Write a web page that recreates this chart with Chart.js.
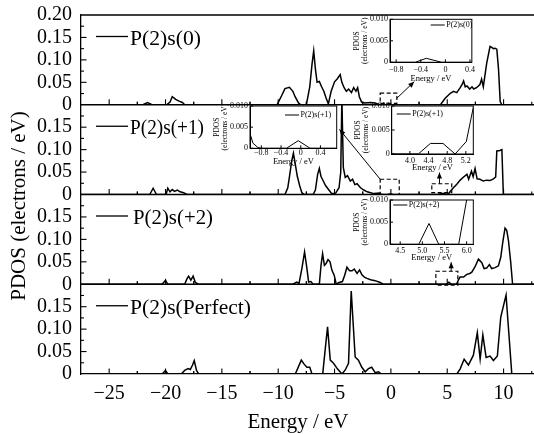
<!DOCTYPE html>
<html><head><meta charset="utf-8">
<script src="https://cdn.jsdelivr.net/npm/chart.js@4/dist/chart.umd.min.js"></script>
<style>
html,body{margin:0;padding:0;background:#fff}
#wrap{position:relative;width:534px;height:434px;overflow:hidden;background:#fff}
canvas{position:absolute}
.t{position:absolute;font-family:'Liberation Serif','Times New Roman',serif;color:#000;white-space:nowrap;text-align:center}
#ytitle{left:-112px;top:194px;width:260px;height:24px;line-height:24px;font-size:21px;transform:rotate(-90deg)}
#xtitle{left:198px;top:409px;width:200px;height:25px;line-height:25px;font-size:21px}
</style></head><body>
<div id="wrap">
<canvas id="main" width="534" height="434" style="left:0;top:0"></canvas>
<div class="t" id="ytitle">PDOS (electrons / eV)</div>
<div class="t" id="xtitle">Energy / eV</div>
</div>
<script>
// ---------- data (Energy in eV, PDOS in electrons/eV) ----------
const seriesLabels = ['P(2)s(0)', 'P(2)s(+1)', 'P(2)s(+2)', 'P(2)s(Perfect)'];

const e0 = [-27.5,-22.0,-21.6,-21.2,-19.9,-19.6,-19.4,-19.1,-18.8,-18.5,-18.3,-10.1,-9.7,-9.4,-9.0,-8.7,-8.5,-8.2,-8.0,-7.5,-7.2,-7.0,-6.85,-6.7,-6.55,-6.35,-6.15,-5.95,-5.75,-5.55,-5.3,-5.0,-4.75,-4.5,-4.35,-4.15,-3.95,-3.75,-3.5,-3.3,-3.1,-2.95,-2.8,-2.6,-2.3,-1.8,-1.4,-1.1,-0.5,-0.3,-0.05,4.4,4.8,5.25,5.55,5.85,6.15,6.3,6.45,6.6,6.75,7.0,7.2,7.35,7.6,7.9,8.05,8.2,8.5,8.8,8.95,9.1,9.25,9.4,9.55,9.7,9.85,12.7];
const v0 = [0,0,0.005,0,0,0.006,0.018,0.012,0.008,0.005,0,0,0.02,0.036,0.039,0.03,0.018,0.004,0,0,0.04,0.09,0.12,0.08,0.05,0.052,0.04,0.03,0.015,0.002,0.03,0.051,0.058,0.067,0.05,0.038,0.03,0.035,0.027,0.038,0.03,0.038,0.018,0.006,0.004,0.005,0.004,0.001,0,0.0009,0,0,0.014,0.025,0.03,0.027,0.038,0.044,0.053,0.04,0.042,0.035,0.04,0.035,0.038,0.045,0.057,0.04,0.092,0.13,0.128,0.125,0.126,0.124,0.08,0.007,0,0];

const e1 = [-27.5,-21.4,-21.1,-20.8,-19.95,-19.8,-19.6,-19.4,-19.2,-18.95,-18.7,-18.4,-18.1,-9.4,-9.15,-9.0,-8.8,-8.65,-8.5,-8.3,-8.1,-7.9,-7.7,-6.9,-6.7,-6.5,-6.35,-6.2,-6.0,-5.8,-5.5,-5.25,-4.9,-4.6,-4.45,-4.35,-4.22,-4.05,-3.85,-3.6,-3.4,-3.2,-3.0,-2.7,-2.4,-2.1,-1.8,-1.5,-1.0,-0.9,-0.8,-0.3,-0.05,0.2,4.2,4.45,4.7,4.97,5.1,5.3,5.55,5.85,6.15,6.45,6.75,6.9,7.15,7.3,7.47,7.65,7.9,8.2,8.5,8.8,9.1,9.3,9.4,9.68,9.85,9.98,12.7];
const v1 = [0,0,0.014,0,0,0.014,0.006,0.011,0.007,0.01,0.006,0.004,0,0,0.015,0.04,0.075,0.092,0.07,0.04,0.02,0.004,0,0,0.01,0.045,0.058,0.04,0.03,0.02,0.01,0.002,0.003,0.015,0.05,0.215,0.06,0.038,0.042,0.03,0.034,0.022,0.024,0.015,0.01,0.006,0.004,0.002,0.0035,0.0012,0.0002,0,0.0018,0,0,0.0022,0.0022,0,0.001,0.008,0.015,0.023,0.032,0.039,0.045,0.034,0.052,0.04,0.058,0.035,0.034,0.03,0.032,0.031,0.035,0.039,0.097,0.098,0.1,0,0];

const e2 = [-27.5,-20.3,-20.0,-19.8,-18.3,-18.1,-17.95,-17.75,-17.55,-17.35,-17.1,-8.7,-8.35,-8.15,-7.9,-7.66,-7.45,-7.3,-7.1,-6.9,-6.35,-6.2,-6.06,-5.9,-5.75,-5.58,-5.4,-5.23,-5.03,-4.85,-4.6,-4.3,-4.1,-3.9,-3.67,-3.45,-3.25,-3.0,-2.78,-2.57,-2.35,-2.13,-1.8,-1.4,-0.95,-0.7,4.92,5.15,5.37,5.82,6.0,6.14,6.45,6.74,7.0,7.18,7.47,7.77,8.07,8.27,8.5,8.74,8.95,9.25,9.54,9.75,9.93,10.13,10.28,10.43,10.63,10.8,12.7];
const v2 = [0,0,0.009,0,0,0.012,0.018,0.009,0.018,0.004,0,0,0.005,0.002,0.035,0.072,0.035,0.005,0.006,0,0,0.042,0.068,0.042,0.046,0.055,0.05,0.031,0.02,0,0.004,0.006,0.02,0.038,0.03,0.03,0.034,0.024,0.032,0.021,0.016,0.013,0.01,0.008,0.004,0,0,0.0047,0,0,0.01,0.016,0.016,0.022,0.024,0.027,0.039,0.056,0.048,0.035,0.036,0.044,0.035,0.037,0.041,0.06,0.094,0.125,0.12,0.098,0.05,0,0];

const e3 = [-27.5,-20.3,-20.0,-19.8,-18.6,-18.3,-18.0,-17.8,-17.6,-17.45,-17.25,-17.05,-8.48,-7.95,-7.7,-7.45,-7.2,-7.0,-6.05,-5.85,-5.62,-5.38,-5.09,-4.73,-4.34,-4.05,-3.76,-3.52,-3.17,-2.88,-2.58,-2.28,-1.99,-1.7,-1.4,-1.1,-0.9,-0.6,5.85,6.14,6.5,6.88,7.32,7.67,7.92,8.16,8.45,8.8,9.1,9.45,9.75,10.22,10.73,12.7];
const v3 = [0,0,0.008,0,0,0.008,0.012,0.01,0.02,0.03,0.008,0,0,0.031,0.022,0.015,0.015,0,0,0.05,0.105,0.031,0.024,0.011,0,0.009,0.024,0.185,0.038,0.031,0.015,0.005,0.012,0.015,0.003,0.005,0.001,0,0,0.011,0.033,0.02,0.042,0.092,0.033,0.087,0.037,0.04,0.03,0.04,0.127,0.176,0,0];

// insets (zoomed views)
const in0E = [-0.9,-0.49,-0.31,-0.06,0.43];
const in0V = [0,0,0.00093,0,0];
const in1aE = [-1.03,-0.97,-0.87,-0.8,-0.29,-0.05,0.19,0.73];
const in1aV = [0.0035,0.0012,0.0002,0,0,0.0018,0,0];
const in1bE = [3.61,4.18,4.44,4.71,4.97,5.21,5.36];
const in1bV = [0,0,0.0022,0.0022,0,0.0026,0.0097];
const in2E = [4.27,4.92,5.15,5.37,5.82,6.0,6.15];
const in2V = [0,0,0.0047,0,0,0.01,0.0185];

// tick values / labels
const xTicks = [-25,-20,-15,-10,-5,0,5,10];
const xTickLabels = ['\u221225','\u221220','\u221215','\u221210','\u22125','0','5','10'];
const yTicksTop = [0,0.05,0.10,0.15,0.20];
const yLabelsTop = ['0','0.05','0.10','0.15','0.20'];
const yTicks = [0,0.05,0.10,0.15];
const yLabels = ['0','0.05','0.10','0.15'];
const inYTicks = [0,0.005,0.010];
const inYLabels = ['0','0.005','0.010'];
const in0XTicks = [-0.8,-0.4,0,0.4], in0XLabels = ['\u22120.8','\u22120.4','0','0.4'];
const in1bXTicks = [4.0,4.4,4.8,5.2], in1bXLabels = ['4.0','4.4','4.8','5.2'];
const in2XTicks = [4.5,5.0,5.5,6.0], in2XLabels = ['4.5','5.0','5.5','6.0'];

// ---------- drawing ----------
const FONT = "'Liberation Serif','Times New Roman',serif";
const seriesE = [e0,e1,e2,e3], seriesV = [v0,v1,v2,v3];
const legendTextWidths = [71, 74, 80, 121];   // rendered widths of the panel legend texts (px)

// annotation boxes / arrows in data space (panel index, energy, pdos)
const zoomBoxes = [
  {p:0, x0:-0.95, x1:0.53, y0:0.003, y1:0.026},
  {p:1, x0:-0.95, x1:0.74, y0:0.0, y1:0.034},
  {p:1, x0:3.63, x1:5.4, y0:0.004, y1:0.024},
  {p:2, x0:3.99, x1:5.94, y0:-0.002, y1:0.029}
];
const arrows = [
  {p:0, a:[0.53,0.0145], b:[2.07,0.0515]},
  {p:1, a:[-0.95,0.034], b:[-4.56,0.145]},
  {p:1, a:[4.31,0.024], b:[4.31,0.049]},
  {p:2, a:[5.35,0.029], b:[5.35,0.049]}
];

function seg(ctx,x1,y1,x2,y2){ctx.beginPath();ctx.moveTo(x1,y1);ctx.lineTo(x2,y2);ctx.stroke();}
function arrowHead(ctx,x1,y1,x2,y2,len,w){
  const ang=Math.atan2(y2-y1,x2-x1);
  ctx.beginPath();
  ctx.moveTo(x2,y2);
  ctx.lineTo(x2-len*Math.cos(ang)+w*Math.sin(ang), y2-len*Math.sin(ang)-w*Math.cos(ang));
  ctx.lineTo(x2-len*Math.cos(ang)-w*Math.sin(ang), y2-len*Math.sin(ang)+w*Math.cos(ang));
  ctx.closePath(); ctx.fill();
}

const framePlugin = {
  id:'frame',
  afterDraw(chart){
    const {ctx, chartArea:a, scales:s} = chart;
    ctx.save();
    ctx.strokeStyle='#000'; ctx.fillStyle='#000'; ctx.lineWidth=1.3;
    seg(ctx,a.left,a.top,a.right,a.top);
    for(let i=0;i<4;i++){
      const ys=s['y'+i];
      const y0=ys.getPixelForValue(0);
      ctx.lineWidth=1.3;
      if(i<3) seg(ctx,a.left,y0,a.right,y0);
      ctx.lineWidth=1.1;
      xTicks.forEach(v=>{
        const x=s.x.getPixelForValue(v); seg(ctx,x,y0,x,y0-5.5);
        [v-2.5,v+2.5].forEach(m=>{const xm=s.x.getPixelForValue(m); if(xm>a.left+1&&xm<a.right) seg(ctx,xm,y0,xm,y0-3);});
      });
      const yt = i===0?yTicksTop:yTicks;
      yt.forEach(v=>{
        if(v>0 && v<0.2){const y=ys.getPixelForValue(v); seg(ctx,a.left,y,a.left+5.5,y);}
        if(v+0.025<0.2){const ym=ys.getPixelForValue(v+0.025); seg(ctx,a.left,ym,a.left+3,ym);}
      });
      // legend
      ctx.lineWidth=1.3;
      const ly=ys.top+21.5;
      seg(ctx,a.left+15,ly,a.left+47,ly);
      ctx.font='22px '+FONT; ctx.textBaseline='alphabetic'; ctx.textAlign='left';
      const tx=a.left+(i===2?52:49);
      const k=legendTextWidths[i]/ctx.measureText(seriesLabels[i]).width;
      ctx.save(); ctx.translate(tx,ly+8); ctx.scale(k,1);
      ctx.fillText(seriesLabels[i],0,0);
      ctx.restore();
    }
    // dashed zoom boxes
    ctx.lineWidth=1.2; ctx.setLineDash([4,2.5]);
    zoomBoxes.forEach(b=>{
      const ys=s['y'+b.p];
      const x0=s.x.getPixelForValue(b.x0), x1=s.x.getPixelForValue(b.x1);
      const y0=ys.getPixelForValue(b.y0), y1=ys.getPixelForValue(b.y1);
      ctx.strokeRect(x0,y1,x1-x0,y0-y1);
    });
    ctx.setLineDash([]);
    ctx.lineWidth=1;
    arrows.forEach(r=>{
      const ys=s['y'+r.p];
      const x1=s.x.getPixelForValue(r.a[0]), y1=ys.getPixelForValue(r.a[1]);
      const x2=s.x.getPixelForValue(r.b[0]), y2=ys.getPixelForValue(r.b[1]);
      seg(ctx,x1,y1,x2,y2); arrowHead(ctx,x1,y1,x2,y2,6,2.6);
    });
    ctx.restore();
  }
};

const scales = {
  x:{type:'linear', position:'bottom', min:-27.5, max:12.7,
     afterBuildTicks:sc=>{sc.ticks=xTicks.map(v=>({value:v}));},
     ticks:{callback:(v,i)=>xTickLabels[i], font:{family:FONT,size:20}, color:'#000', padding:8, maxRotation:0, autoSkip:false},
     grid:{display:false, drawTicks:false}, border:{display:true,color:'#000',width:1.3},
     afterFit:sc=>{sc.height=60;}}
};
// stacked axes are laid out bottom-up: define the bottom panel first
for(let i=3;i>=0;i--){
  const t=i===0?yTicksTop:yTicks, l=i===0?yLabelsTop:yLabels;
  scales['y'+i]={type:'linear', position:'left', stack:'panels', stackWeight:1, min:0, max:0.2,
    afterBuildTicks:sc=>{sc.ticks=t.map(v=>({value:v}));},
    ticks:{callback:(v,j)=>l[j], font:{family:FONT,size:20}, color:'#000', padding:3, autoSkip:false},
    grid:{display:false, drawTicks:true, tickLength:6}, border:{display:true,color:'#000',width:1.3},
    afterFit:sc=>{sc.width=81;}};
}

new Chart(document.getElementById('main'),{
  type:'line',
  data:{datasets:seriesLabels.map((lab,i)=>({
    label:lab, yAxisID:'y'+i, xAxisID:'x',
    data:seriesE[i].map((e,k)=>({x:e,y:seriesV[i][k]})),
    borderColor:'#000', borderWidth:1.5, pointRadius:0, fill:false, tension:0
  }))},
  options:{responsive:false, animation:false, devicePixelRatio:1, events:[],
    layout:{padding:{top:13,left:0,right:0,bottom:0}},
    plugins:{legend:{display:false}, tooltip:{enabled:false}},
    scales},
  plugins:[framePlugin]
});

// ---------- insets ----------
const wrap=document.getElementById('wrap');
function makeInset(c){
  const yW=40, padT=8, padR=4;
  const cl=Math.floor(c.L-yW), ct=Math.floor(c.T-padT);
  const cr=Math.ceil(c.R+padR), cb=Math.ceil(c.B+c.titleOff+6);
  const cv=document.createElement('canvas');
  cv.width=cr-cl; cv.height=cb-ct; cv.style.left=cl+'px'; cv.style.top=ct+'px';
  wrap.appendChild(cv);
  const tfs=8.5, tlh=tfs*1.2;
  const plug={id:'inframe', afterDraw(chart){
    const {ctx, chartArea:a, scales:s}=chart;
    ctx.save(); ctx.strokeStyle='#000'; ctx.fillStyle='#000'; ctx.lineWidth=1;
    ctx.strokeRect(a.left,a.top,a.right-a.left,a.bottom-a.top);
    c.xTicks.forEach(v=>{const x=s.x.getPixelForValue(v); seg(ctx,x,a.bottom,x,a.bottom-3);});
    inYTicks.forEach(v=>{const y=s.y.getPixelForValue(v); seg(ctx,a.left,y,a.left+3,y);});
    const ly=a.top+c.legDy;
    seg(ctx,a.left+c.legDx,ly,a.left+c.legDx+14,ly);
    ctx.font='8px '+FONT; ctx.textBaseline='middle'; ctx.textAlign='left';
    ctx.fillText(c.label,a.left+c.legDx+15.5,ly);
    ctx.restore();
  }};
  new Chart(cv,{
    type:'line',
    data:{datasets:[{data:c.E.map((e,k)=>({x:e,y:c.V[k]})), borderColor:'#000', borderWidth:1, pointRadius:0, fill:false, tension:0}]},
    options:{responsive:false, animation:false, devicePixelRatio:1, events:[],
      layout:{padding:{left:0, top:c.T-ct, right:cr-c.R, bottom:0}},
      plugins:{legend:{display:false}, tooltip:{enabled:false}},
      scales:{
        x:{type:'linear', min:c.xmin, max:c.xmax,
           afterBuildTicks:sc=>{sc.ticks=c.xTicks.map(v=>({value:v}));},
           ticks:{callback:(v,i)=>c.xLabels[i], font:{family:FONT,size:8}, color:'#000', padding:Math.max(0,c.labOff-4.8), maxRotation:0, autoSkip:false},
           grid:{display:false, drawTicks:false}, border:{display:true,color:'#000',width:1},
           title:{display:true, text:'Energy / eV', color:'#000', font:{family:FONT,size:tfs}, padding:{top:0,bottom:Math.max(0,cb-(c.B+c.titleOff)-tlh/2)}},
           afterFit:sc=>{sc.height=cb-c.B;}},
        y:{type:'linear', min:0, max:0.01,
           afterBuildTicks:sc=>{sc.ticks=inYTicks.map(v=>({value:v}));},
           ticks:{callback:(v,i)=>inYLabels[i], font:{family:FONT,size:8}, color:'#000', padding:2, autoSkip:false},
           grid:{display:false, drawTicks:false}, border:{display:true,color:'#000',width:1},
           title:{display:true, text:['PDOS','(electrons / eV)'], color:'#000', font:{family:FONT,size:7.5,lineHeight:1.1}, padding:{top:3,bottom:0}},
           afterFit:sc=>{sc.width=c.L-cl;}}
      }},
    plugins:[plug]
  });
}

makeInset({L:390,R:473.3,T:19.3,B:62.3, xmin:-0.9,xmax:0.43, xTicks:in0XTicks,xLabels:in0XLabels, E:in0E,V:in0V, label:'P(2)s(0)', legDx:40.7, legDy:5.7, labOff:7.7, titleOff:16.7});
makeInset({L:250,R:336.7,T:106,B:148.3, xmin:-1.03,xmax:0.73, xTicks:in0XTicks,xLabels:in0XLabels, E:in1aE,V:in1aV, label:'P(2)s(+1)', legDx:35, legDy:9, labOff:4.8, titleOff:13.4});
makeInset({L:391.7,R:473.3,T:106,B:154, xmin:3.61,xmax:5.36, xTicks:in1bXTicks,xLabels:in1bXLabels, E:in1bE,V:in1bV, label:'P(2)s(+1)', legDx:5, legDy:8, labOff:6.7, titleOff:13.3});
makeInset({L:390,R:473.3,T:200,B:244.3, xmin:4.27,xmax:6.15, xTicks:in2XTicks,xLabels:in2XLabels, E:in2E,V:in2V, label:'P(2)s(+2)', legDx:3.3, legDy:5, labOff:6.4, titleOff:13.4});
</script>
</body></html>
